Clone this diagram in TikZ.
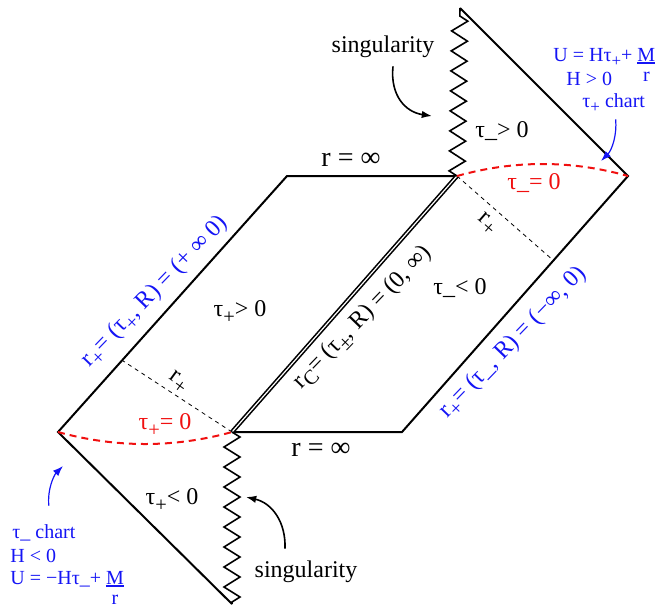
\documentclass[tikz,border=0pt]{standalone}
\usepackage{fontspec}
\usepackage{graphicx}
\setmainfont{Liberation Serif}
\usetikzlibrary{arrows.meta,decorations.pathmorphing,calc}
\definecolor{pdBlue}{HTML}{1414F5}
\definecolor{pdRed}{HTML}{F01010}
\definecolor{pdInk}{HTML}{000000}
\setlength{\arrayrulewidth}{0.8pt}
\newcommand{\pdfrac}[2]{\begin{tabular}[t]{@{}c@{}}#1\\[-3pt]\hline\noalign{\vskip0.5pt}#2\end{tabular}}
\newcommand{\pdsub}[1]{\raisebox{-0.55ex}{\scalebox{0.85}{#1}}}
\tikzset{
  pd edge/.style={draw=pdInk, line width=1pt},
  pd sing/.style={draw=pdInk, line width=0.8pt, decorate, decoration={zigzag, segment length=10pt, amplitude=4pt}},
  pd horizon/.style={draw=pdInk, line width=0.8pt, double, double distance=0.6pt},
  pd surface/.style={draw=pdRed, line width=1pt, dash pattern=on 3.5pt off 2.5pt},
  pd guide/.style={draw=pdInk, line width=0.4pt, dash pattern=on 2pt off 2pt},
  pd label/.style={font=\fontsize{12}{14}\selectfont, text=pdInk, inner sep=1pt},
  pd big/.style={font=\fontsize{14}{16}\selectfont, text=pdInk, inner sep=1pt},
  pd chart/.style={font=\fontsize{10}{12}\selectfont, text=pdBlue, inner sep=0pt, anchor=base west},
  pd line label/.style={font=\fontsize{12}{14}\selectfont, text=pdBlue, inner sep=1pt},
  pd arrow/.style={line width=0.8pt, -{Latex[length=1.8mm,width=1.3mm]}},
}

\begin{document}
\begin{tikzpicture}[x=0.5pt,y=-0.5pt]
  \useasboundingbox (0,0) rectangle (657,607);
  % corners
  \coordinate (sT) at (460,8);
  \coordinate (pU) at (457,176);
  \coordinate (cR) at (628,176);
  \coordinate (bR) at (402,432);
  \coordinate (tL) at (287,176);
  \coordinate (pL) at (232,432);
  \coordinate (cL) at (58,432);
  \coordinate (sB) at (232,604);
  \coordinate (fU) at ($(cR)!0.33!(bR)$);
  \coordinate (fL) at ($(cL)!0.28!(tL)$);

  \draw[pd edge] (sT) -- (cR) -- (bR) -- (pL);
  \draw[pd edge] (sB) -- (cL) -- (tL) -- (pU);
  \draw[pd horizon] (pL) -- (pU);
  \foreach \a/\b in {pU/sT,pL/sB}
    \draw[pd sing] (\a) -- (\b);
  \draw[pd guide] (pU) -- (fU);
  \draw[pd guide] (pL) -- (fL);
  \draw[pd surface] (pU) .. controls (514,160) and (571,160) .. (cR);
  \draw[pd surface] (cL) .. controls (116,448) and (174,448) .. (pL);

  % region labels
  \node[pd big] (infT) at (351,160) {r = ∞};
  \node[pd big] (infB) at (321,450) {r = ∞};
  \node[pd label] (regA) at (502,131) {τ\_> 0};
  \node[pd label] (regB) at (240,312) {τ\pdsub{+}> 0};
  \node[pd label] (regC) at (460,288) {τ\_< 0};
  \node[pd label] (regD) at (172,500) {τ\pdsub{+}< 0};
  \node[pd label, text=pdRed] (zeroU) at (534,183) {τ\_= 0};
  \node[pd label, text=pdRed] (zeroL) at (165,425) {τ\pdsub{+}= 0};
  \node[pd label, rotate=-41] (rU) at (487,224) {r\pdsub{+}};
  \node[pd label, rotate=-36] (rL) at (178,382) {r\pdsub{+}};

  % along the lines
  \node[pd line label, rotate=46] (lnL) at (155,292) {r\pdsub{+}= (τ\pdsub{+}, R) = (+ ∞ 0)};
  \node[pd line label, rotate=46] (lnR) at (513,343) {r\pdsub{+}= (τ\_, R) = (−∞, 0)};
  \node[pd label, rotate=46] (lnC) at (363,318) {r\pdsub{C}= (τ\pdsub{±}, R) = (0, ∞)};

  % singularities
  \node[pd label] (sgT) at (383,47) {singularity};
  \node[pd label] (sgB) at (306,572) {singularity};
  \coordinate (sgTtip) at (432,116);
  \coordinate (sgBtip) at (246,497);
  \draw[pd arrow] ($(sgT.south)+(10,6)$) .. controls (390,95) and (405,112) .. (sgTtip);
  \draw[pd arrow] ($(sgB.north)+(-21,-10)$) .. controls (286,522) and (272,503) .. (sgBtip);

  % charts
  \node[pd chart] (eqU) at (553,61) {U = Hτ\pdsub{+}+ \pdfrac{M}{r}};
  \node[pd chart] (hU) at (566,85) {H > 0};
  \node[pd chart] (chU) at (582,107) {τ\pdsub{+} chart};
  \coordinate (chUtip) at (601,161);
  \draw[pd arrow, draw=pdBlue, line width=0.6pt] ($(chU.south)+(2,7)$) .. controls (617,135) and (612,150) .. (chUtip);

  \node[pd chart] (chL) at (12,538) {τ\_ chart};
  \node[pd chart] (hL) at (10,562) {H < 0};
  \node[pd chart] (eqL) at (10,584) {U = −Hτ\_+ \pdfrac{M}{r}};
  \coordinate (chLtip) at (63,466);
  \draw[pd arrow, draw=pdBlue, line width=0.6pt] ($(chL.north)+(5,-18)$) .. controls (47,490) and (54,475) .. (chLtip);
\end{tikzpicture}
\end{document}
